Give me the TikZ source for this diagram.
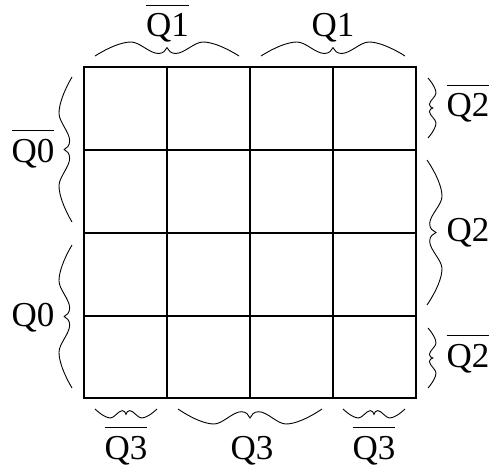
\documentclass[tikz,border=0pt]{standalone}
\usepackage{fontspec}
\setmainfont{Liberation Serif}
\newcommand\ovl[1]{\vbox{\hrule height 1pt\kern 8pt\hbox{#1}}}
% wavy brace: #1 x, #2 y (start), #3 rotation, #4 length, #5 amplitude
\newcommand\wbrace[5]{%
  \draw[braceline, shift={(#1,#2)}, rotate=#3]
    (0,0) .. controls ({0.1*#4},{-0.65*#5}) and ({0.19*#4},{-#5}) .. ({0.25*#4},{-#5})
    .. controls ({0.31*#4},{-#5}) and ({0.38*#4},{-0.18*#5}) .. ({0.44*#4},{-0.18*#5})
    .. controls ({0.475*#4},{-0.18*#5}) and ({0.49*#4},{-0.4*#5}) .. ({0.5*#4},{-0.6*#5})
    .. controls ({0.51*#4},{-0.4*#5}) and ({0.525*#4},{-0.18*#5}) .. ({0.56*#4},{-0.18*#5})
    .. controls ({0.62*#4},{-0.18*#5}) and ({0.69*#4},{-#5}) .. ({0.75*#4},{-#5})
    .. controls ({0.81*#4},{-#5}) and ({0.9*#4},{-0.65*#5}) .. ({#4},0);}
\tikzset{
  braceline/.style={line width=0.9pt, black},
  gridline/.style={line width=1.2pt, black},
  lbl/.style={anchor=base, inner sep=0pt, font=\fontsize{35}{42}\selectfont},
}
\begin{document}
\begin{tikzpicture}[x=1pt, y=-1pt]
\useasboundingbox (0,0) rectangle (495,468);
% grid
\draw[gridline] (84,67) rectangle (416,398);
\foreach \xx in {167,250,333} \draw[gridline] (\xx,67) -- (\xx,398);
\foreach \yy in {150,233,316} \draw[gridline] (84,\yy) -- (416,\yy);
% top braces
\wbrace{95}{56}{0}{144}{14}
\wbrace{261}{56}{0}{144}{14}
% left braces
\wbrace{72}{222}{90}{145}{13}
\wbrace{72}{388}{90}{143}{13}
% right braces
\wbrace{428}{78}{-90}{60}{8}
\wbrace{427}{160}{-90}{145}{15}
\wbrace{428}{328}{-90}{60}{8}
% bottom braces
\wbrace{157}{409}{180}{62}{9}
\wbrace{322}{409}{180}{144}{15}
\wbrace{405}{409}{180}{62}{9}
% labels
\node[lbl] (q1n) at (167.5,37) {\ovl{Q1}};
\node[lbl] (q1) at (333,37) {Q1};
\node[lbl] (q0n) at (33,162) {\ovl{Q0}};
\node[lbl] (q0) at (33,326) {Q0};
\node[lbl] (q2na) at (468,117) {\ovl{Q2}};
\node[lbl] (q2) at (468,241) {Q2};
\node[lbl] (q2nb) at (468,367) {\ovl{Q2}};
\node[lbl] (q3na) at (126,459) {\ovl{Q3}};
\node[lbl] (q3) at (252,459) {Q3};
\node[lbl] (q3nb) at (374,459) {\ovl{Q3}};
\end{tikzpicture}
\end{document}
